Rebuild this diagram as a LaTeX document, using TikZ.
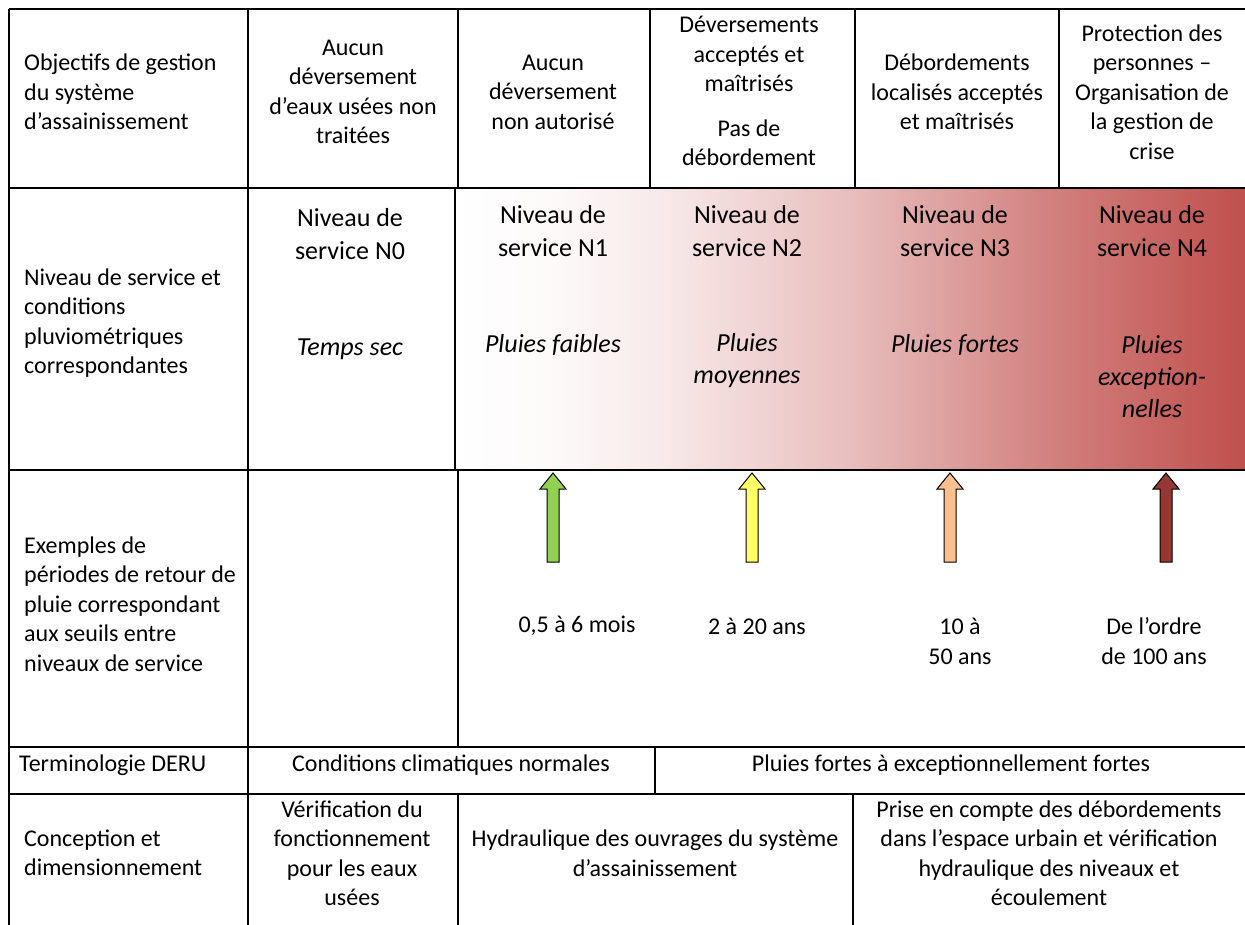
\documentclass[tikz,border=0pt]{standalone}
\usepackage{fontspec}
\setmainfont{Carlito}
\definecolor{gradred}{RGB}{192,80,77}
\pgfdeclarehorizontalshading{bandgrad}{100bp}{color(0bp)=(white); color(25bp)=(white); color(31bp)=(gradred!3!white); color(38bp)=(gradred!12!white); color(50bp)=(gradred!37!white); color(63bp)=(gradred!73!white); color(75bp)=(gradred); color(100bp)=(gradred)}
\begin{document}
\begin{tikzpicture}[x=1pt,y=-1pt,
  grid/.style={line width=1.8pt,black},
  body/.style={inner sep=0pt,font=\fontsize{24}{29.5}\selectfont},
  lbody/.style={body,align=left,anchor=west},
  cbody/.style={body,align=center},
  nums/.style={inner sep=0pt,align=center,font=\fontsize{24}{30}\selectfont},
  head/.style={inner sep=0pt,align=center,font=\fontsize{26}{33}\selectfont},
  rain/.style={inner sep=0pt,align=center,font=\fontsize{26}{32}\selectfont\itshape},
  arrline/.style={line width=1pt,black,line join=miter},
  pics/uparr/.style={code={\draw[arrline,fill=#1] (-6,89) -- (-6,16) -- (-13,16) -- (0,0) -- (13,16) -- (6,16) -- (6,89) -- cycle;}}
]
\definecolor{greenA}{RGB}{146,208,80}
\definecolor{yellowA}{RGB}{255,255,102}
\definecolor{peachA}{RGB}{250,192,144}
\definecolor{redA}{RGB}{149,55,53}
\useasboundingbox[fill=white] (0,0) rectangle (1245,925);

% gradient band
\shade[shading=bandgrad] (455,188) rectangle (1245,469);
\draw[line width=0.8pt,black!60] (455,188) rectangle (1245,469);

% grid
\draw[grid] (9,9) -- (1245,9);
\draw[grid] (9,188) -- (1245,188);
\draw[grid] (9,470) -- (1245,470);
\draw[grid] (9,747) -- (1245,747);
\draw[grid] (9,794) -- (1245,794);
\draw[grid] (9,9) -- (9,925);
\draw[grid] (248,9) -- (248,925);
\draw[grid] (458,9) -- (458,188);
\draw[grid] (455,188) -- (455,470);
\draw[grid] (458,470) -- (458,747);
\draw[grid] (458,794) -- (458,925);
\draw[grid] (650,9) -- (650,188);
\draw[grid] (855,9) -- (855,188);
\draw[grid] (1059,9) -- (1059,188);
\draw[grid] (655,747) -- (655,794);
\draw[grid] (853,794) -- (853,925);

% row 1
\node[lbody] (r1) at (24,92) {Objectifs de gestion\\du système\\d’assainissement};
\node[cbody] (o0) at (353,92) {Aucun\\déversement\\d’eaux usées non\\traitées};
\node[cbody] (o1) at (553,92) {Aucun\\déversement\\non autorisé};
\node[cbody] (o2) at (749,91) {Déversements\\acceptés et\\maîtrisés\\[15pt]Pas de\\débordement};
\node[cbody] (o3) at (957,92) {Débordements\\localisés acceptés\\et maîtrisés};
\node[cbody] (o4) at (1152,92) {Protection des\\personnes –\\Organisation de\\la gestion de\\crise};

% row 2
\node[lbody] (r2) at (24,323) {Niveau de service et\\conditions\\pluviométriques\\correspondantes};
\node[head] (n0) at (350,234) {Niveau de\\service N0};
\node[head] (n1) at (553,231) {Niveau de\\service N1};
\node[head] (n2) at (747,231) {Niveau de\\service N2};
\node[head] (n3) at (955,231) {Niveau de\\service N3};
\node[head] (n4) at (1152,231) {Niveau de\\service N4};
\node[rain] (p0) at (350,349) {Temps sec};
\node[rain] (p1) at (553,345) {Pluies faibles};
\node[rain] (p2) at (747,361) {Pluies\\moyennes};
\node[rain] (p3) at (955,345) {Pluies fortes};
\node[rain] (p4) at (1152,377) {Pluies\\exception-\\nelles};

% row 3
\node[lbody] (r3) at (24,604) {Exemples de\\périodes de retour de\\pluie correspondant\\aux seuils entre\\niveaux de service};
\pic at (553,473) {uparr=greenA};
\pic at (752,473) {uparr=yellowA};
\pic at (950,473) {uparr=peachA};
\pic at (1166,473) {uparr=redA};
\node[nums] (t1) at (577,626) {0,5 à 6 mois};
\node[nums] (t2) at (757,626) {2 à 20 ans};
\node[nums] (t3) at (960,641) {10 à\\50 ans};
\node[nums] (t4) at (1154,641) {De l’ordre\\de 100 ans};

% row 4
\node[lbody] (r4) at (19,765) {Terminologie DERU};
\node[cbody] (d1) at (451,765) {Conditions climatiques normales};
\node[cbody] (d2) at (951,765) {Pluies fortes à exceptionnellement fortes};

% row 5
\node[lbody] (r5) at (24,853) {Conception et\\dimensionnement};
\node[cbody] (c0) at (352,853) {Vérification du\\fonctionnement\\pour les eaux\\usées};
\node[cbody] (c1) at (655,853) {Hydraulique des ouvrages du système\\d’assainissement};
\node[cbody] (c2) at (1049,853) {Prise en compte des débordements\\dans l’espace urbain et vérification\\hydraulique des niveaux et\\écoulement};
\end{tikzpicture}
\end{document}
